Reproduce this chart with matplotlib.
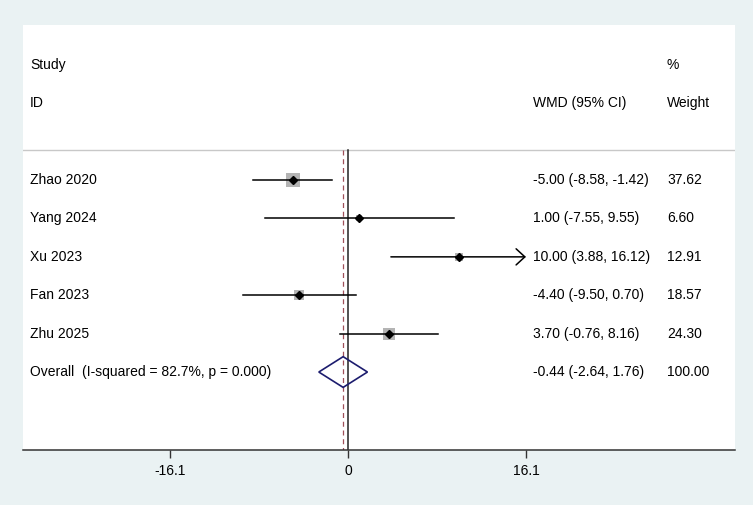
import matplotlib.pyplot as plt
from matplotlib.patches import Polygon
import numpy as np

plt.rcParams['font.family'] = ['Liberation Sans', 'DejaVu Sans']

# Study data
studies = ["Zhao 2020", "Yang 2024", "Xu 2023", "Fan 2023", "Zhu 2025"]
wmd = [-5.00, 1.00, 10.00, -4.40, 3.70]
ci_low = [-8.58, -7.55, 3.88, -9.50, -0.76]
ci_high = [-1.42, 9.55, 16.12, 0.70, 8.16]
weights = [37.62, 6.60, 12.91, 18.57, 24.30]

overall_label = "Overall  (I-squared = 82.7%, p = 0.000)"
overall_est = -0.44
overall_low = -2.64
overall_high = 1.76

tick_vals = [-16.1, 0, 16.1]
tick_labels = ["-16.1", "0", "16.1"]

bg = '#eaf2f3'
fig = plt.figure(figsize=(7.53, 5.05), dpi=100, facecolor=bg)
ax = fig.add_axes([0.0305, 0.109, 0.9455, 0.8415])
ax.set_facecolor('white')

x_max = 16.1  # CIs beyond this get an arrow
ax.set_xlim(-29.4, 35.0)
ax.set_ylim(8.03, -3.04)

n = len(studies)
rows = np.arange(1, n + 1)
overall_row = n + 1

# header
col_study = 0.0098
col_wmd = 0.716
col_w = 0.9045
tr = ax.get_yaxis_transform()  # x in axes, y in data
ax.text(col_study, -2, "Study", transform=tr, va='center', fontsize=10)
ax.text(col_study, -1, "ID", transform=tr, va='center', fontsize=10)
ax.text(col_wmd, -1, "WMD (95% CI)", transform=tr, va='center', fontsize=10)
ax.text(col_w, -2, "%", transform=tr, va='center', fontsize=10)
ax.text(col_w, -1, "Weight", transform=tr, va='center', fontsize=10)
ax.axhline(0.22, color='#c8c8c8', lw=1)

# reference lines
ax.plot([0, 0], [0.22, 8.03], color='#222222', lw=1.1, zorder=2)
ax.plot([overall_est, overall_est], [0.22, 8.03], color='#a0505a', lw=0.9,
        ls=(0, (4, 3)), zorder=2)

# studies
for i in range(n):
    y = rows[i]
    side_px = 2.35 * np.sqrt(weights[i])
    ax.scatter(wmd[i], y, marker='s', s=(side_px * 0.72) ** 2, color='#b4b4b4',
               zorder=3, linewidths=0)
    if ci_high[i] > x_max:
        ax.annotate('', xy=(x_max, y), xytext=(ci_low[i], y),
                    arrowprops=dict(arrowstyle='->,head_length=0.63,head_width=0.58',
                                    color='black', lw=1.1, shrinkA=0, shrinkB=0),
                    zorder=4)
    else:
        ax.plot([ci_low[i], ci_high[i]], [y, y], color='black', lw=1.1, zorder=4)
    ax.plot(wmd[i], y, marker='D', ms=4, color='black', zorder=5)
    ax.text(col_study, y, studies[i], transform=tr, va='center', fontsize=10)
    ax.text(col_wmd, y, f"{wmd[i]:.2f} ({ci_low[i]:.2f}, {ci_high[i]:.2f})",
            transform=tr, va='center', fontsize=10)
    ax.text(col_w, y, f"{weights[i]:.2f}", transform=tr, va='center', fontsize=10)

# overall diamond
h = 0.4
diamond = Polygon([(overall_low, overall_row), (overall_est, overall_row - h),
                   (overall_high, overall_row), (overall_est, overall_row + h)],
                  closed=True, fill=False, edgecolor='#1c1c6e', lw=1.2, zorder=5)
ax.add_patch(diamond)
ax.text(col_study, overall_row, overall_label, transform=tr, va='center', fontsize=10)
ax.text(col_wmd, overall_row,
        f"{overall_est:.2f} ({overall_low:.2f}, {overall_high:.2f})",
        transform=tr, va='center', fontsize=10)
ax.text(col_w, overall_row, "100.00", transform=tr, va='center', fontsize=10)

# axes
for s in ['top', 'left', 'right']:
    ax.spines[s].set_visible(False)
ax.spines['bottom'].set_color('#333333')
ax.spines['bottom'].set_linewidth(1.1)
ax.set_yticks([])
ax.set_xticks(tick_vals)
ax.set_xticklabels(tick_labels)
ax.tick_params(axis='x', direction='out', length=6, width=1, color='#333333',
               labelsize=10, pad=4)

fig.savefig('out.png', dpi=100, facecolor=bg)
